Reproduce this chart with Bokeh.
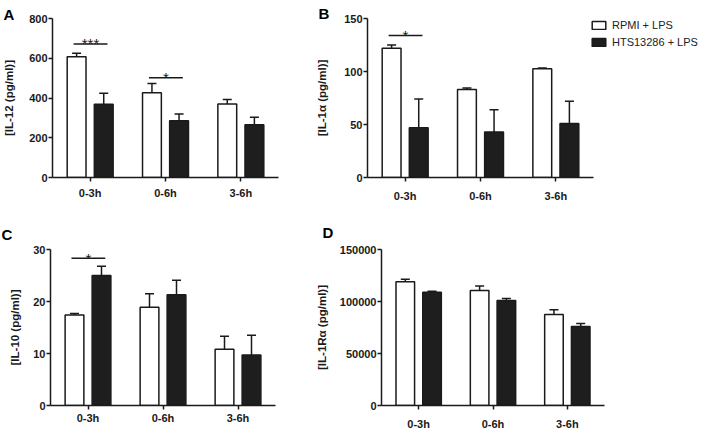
from bokeh.plotting import figure
from bokeh.models import (Range1d, ColumnDataSource, Whisker, TeeHead,
                          Title, Legend, LegendItem, FixedTicker, BasicTickFormatter)
from bokeh.transform import dodge
from bokeh.layouts import row, column
from bokeh.embed import file_html
from bokeh.resources import INLINE
from bokeh.core.properties import value

# ---------------- data ----------------
times = ["0-3h", "0-6h", "3-6h"]
series = ["RPMI + LPS", "HTS13286 + LPS"]

il12_rpmi = [608, 427, 370]
il12_rpmi_err = [17, 46, 23]
il12_hts = [369, 285, 265]
il12_hts_err = [55, 34, 38]

il1a_rpmi = [122, 83, 102.5]
il1a_rpmi_err = [3, 1.5, 0.7]
il1a_hts = [47, 43, 51]
il1a_hts_err = [27, 21, 21]

il10_rpmi = [17.4, 18.9, 10.8]
il10_rpmi_err = [0.3, 2.6, 2.5]
il10_hts = [25.0, 21.3, 9.7]
il10_hts_err = [1.8, 2.8, 3.8]

il1ra_rpmi = [119000, 110500, 87500]
il1ra_rpmi_err = [2500, 4500, 4500]
il1ra_hts = [109000, 101000, 76000]
il1ra_hts_err = [900, 1800, 2800]

sigA_times = ["0-3h", "0-6h"]
sigA_text = ["***", "*"]
sigA_y = [672, 502]
sigB_times = ["0-3h"]
sigB_text = ["*"]
sigB_y = [134]
sigC_times = ["0-3h"]
sigC_text = ["*"]
sigC_y = [28.3]

FONT = "Liberation Sans"
INK = "#1a1a1a"
DARK = "#1e1e1e"

# category centres on the x scale (one unit per category)
xpos = [i + 0.5 for i, _ in enumerate(times)]
xmap = dict(zip(times, xpos))


def make_panel(width, height, borders, xend, ymax, yticks, ylabel, als, xstand,
               rpmi, rpmi_err, hts, hts_err, sig_t, sig_txt, sig_y,
               letter, letter_offset, letter_standoff):
    bl, br, bt, bb = borders
    p = figure(x_range=Range1d(0, xend), y_range=Range1d(0, ymax),
               width=width, height=height, output_backend="svg", toolbar_location=None,
               title=None, min_border_left=bl, min_border_right=br,
               min_border_top=bt, min_border_bottom=bb)
    p.xgrid.visible = False
    p.ygrid.visible = False
    p.outline_line_color = None
    p.background_fill_color = "white"

    for ax in (p.xaxis[0], p.yaxis[0]):
        ax.axis_line_width = 1.5
        ax.axis_line_color = INK
        ax.major_tick_line_width = 1.5
        ax.major_tick_line_color = INK
        ax.major_tick_out = 4
        ax.major_tick_in = 0
        ax.minor_tick_line_color = None
        ax.major_label_text_font = FONT
        ax.major_label_text_font_style = "bold"
        ax.major_label_text_font_size = "11px"
        ax.major_label_text_color = INK

    xa = p.xaxis[0]
    xa.ticker = FixedTicker(ticks=xpos)
    xa.major_label_overrides = {x: t for t, x in xmap.items()}
    xa.major_label_standoff = xstand
    xa.bounds = (0, len(times))

    ya = p.yaxis[0]
    ya.ticker = FixedTicker(ticks=yticks)
    ya.formatter = BasicTickFormatter(use_scientific=False)
    ya.major_label_standoff = 1
    ya.axis_label = ylabel
    ya.axis_label_text_font = FONT
    ya.axis_label_text_font_style = "bold"
    ya.axis_label_text_font_size = "11.5px"
    ya.axis_label_text_color = INK
    ya.axis_label_standoff = als

    src = ColumnDataSource(dict(
        x=xpos, rpmi=rpmi, hts=hts,
        rpmi_up=[v + e for v, e in zip(rpmi, rpmi_err)],
        hts_up=[v + e for v, e in zip(hts, hts_err)],
    ))
    r1 = p.vbar(x=dodge("x", -0.18), top="rpmi", width=0.25, source=src,
                fill_color="white", line_color=INK, line_width=1.5)
    r2 = p.vbar(x=dodge("x", 0.18), top="hts", width=0.25, source=src,
                fill_color=DARK, line_color=INK, line_width=1.5)
    for off, lo, up in ((-0.18, "rpmi", "rpmi_up"), (0.18, "hts", "hts_up")):
        w = Whisker(base=dodge("x", off), lower=lo, upper=up, source=src,
                    dimension="height", line_width=1.5, line_color=INK, lower_head=None,
                    upper_head=TeeHead(size=9, line_width=1.5, line_color=INK))
        p.add_layout(w)

    if sig_t:
        ssrc = ColumnDataSource(dict(x=[xmap[t] for t in sig_t], txt=sig_txt, y=sig_y))
        p.segment(x0=dodge("x", -0.22), x1=dodge("x", 0.23),
                  y0="y", y1="y", source=ssrc, line_width=1.5, line_color=INK)
        p.text(x=dodge("x", 0.005), y="y", text="txt", source=ssrc,
               text_align="center", text_baseline="alphabetic",
               text_font=value(FONT), text_font_size="15px", text_color=INK)

    t = Title(text=letter, align="left", vertical_align="top", offset=letter_offset,
              text_font=FONT, text_font_style="bold", text_font_size="15px",
              text_color="black")
    try:
        t.standoff = letter_standoff
    except Exception:
        t.standoff = 0
    p.add_layout(t, "above")
    return p, r1, r2


# canvas sizes and borders chosen so the frames sit where the reference's axes are
pA, _, _ = make_panel(312, 205, (52, 34, 16, 28), 3, 800, [0, 200, 400, 600, 800],
                      "[IL-12 (pg/ml)]", 11, 5,
                      il12_rpmi, il12_rpmi_err, il12_hts, il12_hts_err,
                      sigA_times, sigA_text, sigA_y, "A", -49, -13)
pB, rB1, rB2 = make_panel(388, 205, (55, 0, 18, 28), 333 / (226 / 3), 150, [0, 50, 100, 150],
                          "[IL-1\u03b1 (pg/ml)]", 13, 8,
                          il1a_rpmi, il1a_rpmi_err, il1a_hts, il1a_hts_err,
                          sigB_times, sigB_text, sigB_y, "B", -49, -11)
pC, _, _ = make_panel(312, 230, (50, 37, 42, 30), 3, 30, [0, 10, 20, 30],
                      "[IL-10 (pg/ml)]", 9, 2,
                      il10_rpmi, il10_rpmi_err, il10_hts, il10_hts_err,
                      sigC_times, sigC_text, sigC_y, "C", -49, 9)
pD, _, _ = make_panel(388, 230, (67, 96, 44, 26), 3, 150000, [0, 50000, 100000, 150000],
                      "[IL-1R\u03b1 (pg/ml)]", 9, 8,
                      il1ra_rpmi, il1ra_rpmi_err, il1ra_hts, il1ra_hts_err,
                      [], [], [], "D", -59, 13)

legend = Legend(items=[LegendItem(label=series[0], renderers=[rB1]),
                       LegendItem(label=series[1], renderers=[rB2])],
                location=(223, 129), padding=0, margin=0, spacing=5,
                glyph_width=17, glyph_height=10, label_standoff=5,
                label_text_font=FONT, label_text_font_size="11px",
                label_text_color="#222222", border_line_color=None,
                background_fill_alpha=0)
pB.add_layout(legend)

layout = column(row(pA, pB), row(pC, pD))
open("out.html", "w").write(file_html(layout, INLINE))
